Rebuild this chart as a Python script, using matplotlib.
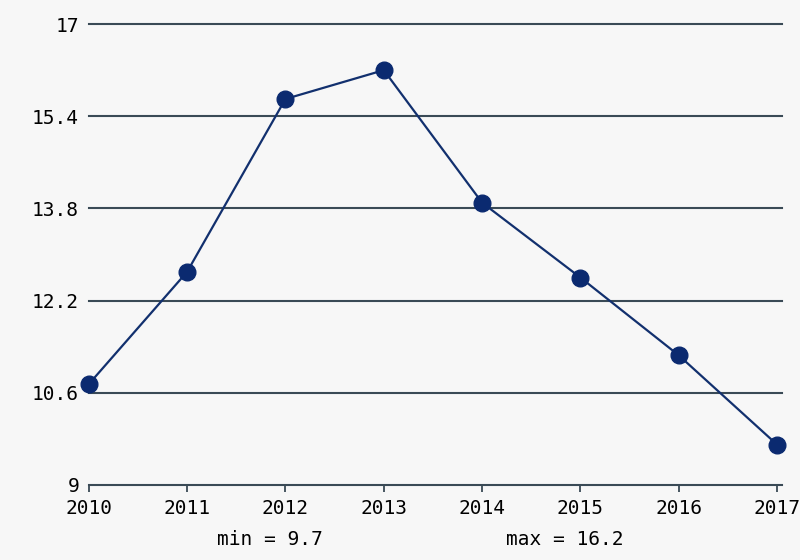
import matplotlib.pyplot as plt

# values
years = [2010, 2011, 2012, 2013, 2014, 2015, 2016, 2017]
values = [10.75, 12.7, 15.7, 16.2, 13.9, 12.6, 11.25, 9.7]
y_ticks = [9, 10.6, 12.2, 13.8, 15.4, 17]
y_labels = ['9', '10.6', '12.2', '13.8', '15.4', '17']
min_label = 'min = 9.7'
max_label = 'max = 16.2'

plt.rcParams['font.family'] = ['DejaVu Sans Mono']

fig = plt.figure(figsize=(8, 5.6), dpi=100)
fig.patch.set_facecolor('#f7f7f7')
ax = fig.add_axes([0.111, 0.134, 0.8665, 0.823])
ax.set_facecolor('#f7f7f7')

grid_color = '#3a4a56'
for yt in y_ticks:
    ax.axhline(yt, color=grid_color, lw=1.5, zorder=1, clip_on=False)

ax.plot(years, values, color='#12306e', lw=1.6, marker='o', ms=12,
        markerfacecolor='#0b2a70', markeredgecolor='#0b2a70', zorder=3,
        clip_on=False)

ax.set_xlim(2010, 2017.05)
ax.set_ylim(9, 17)
ax.set_xticks(years)
ax.set_xticklabels([str(y) for y in years], fontsize=14)
ax.set_yticks(y_ticks)
ax.set_yticklabels(y_labels, fontsize=14)
ax.tick_params(axis='x', length=5, width=1.3, color=grid_color, pad=5)
ax.tick_params(axis='y', length=0, pad=7)
for s in ax.spines.values():
    s.set_visible(False)

fig.text(0.3375, 0.036, min_label, fontsize=14, ha='center', va='center')
fig.text(0.706, 0.036, max_label, fontsize=14, ha='center', va='center')

fig.savefig('out.png', dpi=100, facecolor=fig.get_facecolor())
